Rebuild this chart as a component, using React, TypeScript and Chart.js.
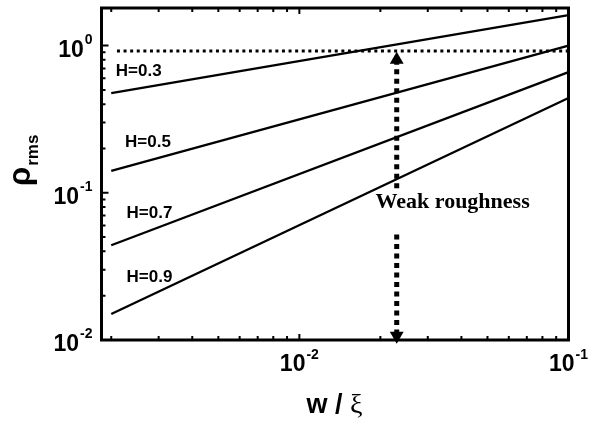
import { useEffect, useRef } from "react";
import { Chart, registerables } from "chart.js";

Chart.register(...registerables);

// Axis extents (log-log)
const xRange = [0.00184, 0.1];
const yRange = [0.01, 1.8];

// Normalised roughness vs. w/xi for several Hurst exponents
const hurstLabels = ["H=0.3", "H=0.5", "H=0.7", "H=0.9"];
const lineX = [0.002, 0.1];
const rhoH03 = [0.475, 1.61];
const rhoH05 = [0.141, 1.0];
const rhoH07 = [0.044, 0.66];
const rhoH09 = [0.015, 0.44];

// Threshold line and weak-roughness arrow
const thresholdX = [0.0021, 0.1];
const thresholdRho = 0.92;
const arrowX = 0.023;
const arrowUpper = [0.8, 0.104];
const arrowLower = [0.052, 0.0107];

// Tick labels
const xMajorTicks = [0.01, 0.1];
const xTickLabels = [["10", "-2"], ["10", "-1"]];
const yMajorTicks = [0.01, 0.1, 1];
const yTickLabels = [["10", "-2"], ["10", "-1"], ["10", "0"]];

// Annotation anchors in data coordinates
const hurstLabelX = [0.00208, 0.00225, 0.00228, 0.00228];
const hurstLabelY = [0.617, 0.204, 0.0676, 0.0249];
const weakLabel = { text: "Weak roughness", x: 0.0371, y: 0.0788 };

const SANS = "Arial, 'Liberation Sans', sans-serif";
const SERIF = "'Times New Roman', 'Liberation Serif', serif";

function minorValues(min: number, max: number) {
  const out: { v: number; major: boolean }[] = [];
  for (let d = Math.floor(Math.log10(min)); d <= Math.ceil(Math.log10(max)); d++) {
    for (let m = 1; m <= 9; m++) {
      const v = m * Math.pow(10, d);
      if (v >= min * 0.999 && v <= max * 1.001) out.push({ v, major: m === 1 });
    }
  }
  return out;
}

const framePlugin = {
  id: "frameAndLabels",
  afterDatasetsDraw(chart: any) {
    const { ctx, chartArea: a } = chart;
    const xs = chart.scales.x;
    const ys = chart.scales.y;
    ctx.save();
    ctx.strokeStyle = "#000";
    ctx.fillStyle = "#000";

    // inward ticks
    ctx.lineWidth = 2;
    ctx.beginPath();
    for (const t of minorValues(xRange[0], xRange[1])) {
      const px = xs.getPixelForValue(t.v);
      const len = t.major ? 6 : 4;
      ctx.moveTo(px, a.bottom);
      ctx.lineTo(px, a.bottom - len);
      ctx.moveTo(px, a.top);
      ctx.lineTo(px, a.top + len);
    }
    for (const t of minorValues(yRange[0], yRange[1])) {
      const py = ys.getPixelForValue(t.v);
      const len = t.major ? 7 : 4;
      ctx.moveTo(a.left, py);
      ctx.lineTo(a.left + len, py);
    }
    ctx.stroke();

    // frame
    ctx.lineWidth = 3;
    ctx.strokeRect(a.left, a.top, a.right - a.left, a.bottom - a.top);

    const baseFont = `bold 23px ${SANS}`;
    const supFont = `bold 14px ${SANS}`;

    // y tick labels
    ctx.textBaseline = "alphabetic";
    yMajorTicks.forEach((v, i) => {
      const py = ys.getPixelForValue(v);
      const [b, s] = yTickLabels[i];
      ctx.font = supFont;
      const sw = ctx.measureText(s).width;
      ctx.font = baseFont;
      const bw = ctx.measureText(b).width;
      const right = a.left - 9;
      ctx.textAlign = "left";
      ctx.fillText(b, right - sw - bw - 1, py + 11);
      ctx.font = supFont;
      ctx.fillText(s, right - sw, py - 2);
    });

    // x tick labels
    xMajorTicks.forEach((v, i) => {
      const px = xs.getPixelForValue(v);
      const [b, s] = xTickLabels[i];
      ctx.font = supFont;
      const sw = ctx.measureText(s).width;
      ctx.font = baseFont;
      const bw = ctx.measureText(b).width;
      const left = px - (bw + sw + 1) / 2;
      ctx.textAlign = "left";
      ctx.fillText(b, left, a.bottom + 31);
      ctx.font = supFont;
      ctx.fillText(s, left + bw + 1, a.bottom + 19);
    });

    // x axis title: w / xi
    ctx.font = `bold 27px ${SANS}`;
    const p1 = "w / ";
    const w1 = ctx.measureText(p1).width;
    ctx.font = `28px ${SERIF}`;
    const w2 = ctx.measureText("\u03BE").width;
    const tx = xs.getPixelForValue(0.0135) - (w1 + w2) / 2;
    ctx.font = `bold 27px ${SANS}`;
    ctx.fillText(p1, tx, a.bottom + 73);
    ctx.font = `28px ${SERIF}`;
    ctx.fillText("\u03BE", tx + w1, a.bottom + 73);

    // y axis title: rho_rms (rotated)
    ctx.save();
    ctx.translate(30, 186);
    ctx.rotate(-Math.PI / 2);
    ctx.font = `bold 31px ${SANS}`;
    ctx.fillText("\u03C1", 0, 0);
    const rw = ctx.measureText("\u03C1").width;
    ctx.font = `bold 17px ${SANS}`;
    ctx.fillText("rms", rw + 1, 8);
    ctx.restore();

    // Hurst exponent labels
    ctx.font = `bold 17px ${SANS}`;
    hurstLabels.forEach((t, i) => {
      ctx.fillText(t, xs.getPixelForValue(hurstLabelX[i]), ys.getPixelForValue(hurstLabelY[i]));
    });

    // weak roughness label
    ctx.font = `bold 22px ${SERIF}`;
    ctx.textAlign = "center";
    ctx.fillText(weakLabel.text, xs.getPixelForValue(weakLabel.x), ys.getPixelForValue(weakLabel.y));

    ctx.restore();
  },
};

function pts(xv: number[], yv: number[]) {
  return xv.map((x, i) => ({ x, y: yv[i] }));
}

export default function App() {
  const ref = useRef<HTMLCanvasElement | null>(null);

  useEffect(() => {
    if (!ref.current) return;
    const solid = {
      borderColor: "#000",
      borderWidth: 2.3,
      pointRadius: 0,
      tension: 0,
      fill: false,
    };
    const chart = new Chart(ref.current, {
      type: "line",
      data: {
        datasets: [
          { ...solid, label: hurstLabels[0], data: pts(lineX, rhoH03) },
          { ...solid, label: hurstLabels[1], data: pts(lineX, rhoH05) },
          { ...solid, label: hurstLabels[2], data: pts(lineX, rhoH07) },
          { ...solid, label: hurstLabels[3], data: pts(lineX, rhoH09) },
          {
            label: "threshold",
            data: pts(thresholdX, [thresholdRho, thresholdRho]),
            borderColor: "#000",
            borderWidth: 3,
            borderDash: [3, 3.6],
            pointRadius: 0,
            fill: false,
          },
          {
            label: "arrow-up",
            data: pts([arrowX, arrowX], arrowUpper),
            borderColor: "#000",
            borderWidth: 5,
            borderDash: [5, 4.5],
            pointStyle: "triangle",
            pointRadius: [8, 0],
            pointBackgroundColor: "#000",
            pointBorderColor: "#000",
            pointBorderWidth: 0,
            fill: false,
            clip: false,
          },
          {
            label: "arrow-down",
            data: pts([arrowX, arrowX], arrowLower),
            borderColor: "#000",
            borderWidth: 5,
            borderDash: [5, 4.5],
            pointStyle: "triangle",
            pointRadius: [0, 8],
            pointRotation: [0, 180],
            pointBackgroundColor: "#000",
            pointBorderColor: "#000",
            pointBorderWidth: 0,
            fill: false,
            clip: false,
          },
        ] as any,
      },
      options: {
        animation: false,
        responsive: false,
        devicePixelRatio: 1,
        events: [],
        layout: { padding: { left: 101.5, right: 31.5, top: 1.5, bottom: 84 } },
        scales: {
          x: { type: "logarithmic", min: xRange[0], max: xRange[1], display: false },
          y: { type: "logarithmic", min: yRange[0], max: yRange[1], display: false },
        },
        plugins: { legend: { display: false }, tooltip: { enabled: false } },
      },
      plugins: [framePlugin],
    } as any);
    return () => chart.destroy();
  }, []);

  return (
    <div style={{ position: "absolute", left: 0, top: 0, width: 600, height: 424, background: "#fff" }}>
      <canvas ref={ref} width={600} height={424} style={{ display: "block" }} />
    </div>
  );
}
